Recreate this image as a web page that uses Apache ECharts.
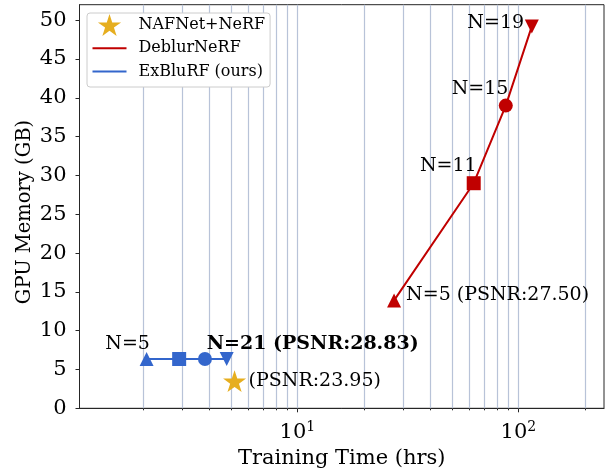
<!DOCTYPE html>
<html>
<head>
<meta charset="utf-8">
<script src="https://cdn.jsdelivr.net/npm/echarts@6/dist/echarts.min.js"></script>
<style>
html,body{margin:0;padding:0;background:#fff;}
#chart{width:607px;height:468px;}
</style>
</head>
<body>
<div id="chart"></div>
<script>
// ---- data ----
const nafTime = [5.2];
const nafMem = [3.5];
const nafLabels = ['(PSNR:23.95)'];

const deblurTime = [27.4, 62.8, 87.7, 115];
const deblurMem = [13.9, 29.0, 39.0, 49.2];
const deblurLabels = ['N=5 (PSNR:27.50)', 'N=11', 'N=15', 'N=19'];

const exbTime = [2.08, 2.92, 3.82, 4.79];
const exbMem = [6.35, 6.35, 6.35, 6.35];
const exbLabels = ['N=5', '', '', 'N=21 (PSNR:28.83)'];

const seriesNames = ['NAFNet+NeRF', 'DeblurNeRF', 'ExBluRF (ours)'];
const xMajorTicks = [10, 100];
const xMinorTicks = [2, 3, 4, 5, 6, 7, 8, 9, 20, 30, 40, 50, 60, 70, 80, 90, 200];
const yTicks = [0, 5, 10, 15, 20, 25, 30, 35, 40, 45, 50];

// ---- styles ----
const FONT = 'DejaVu Serif';
const RED = '#C00000';
const BLUE = '#3366CC';
const GOLD = '#E6AE1F';
const GRIDC = '#B8C3D8';
const AXC = '#262626';
const TICKFS = 21;
const ANNFS = 19;

// star path
function starPath() {
  let pts = [];
  for (let i = 0; i < 10; i++) {
    const r = i % 2 === 0 ? 100 : 38.2;
    const a = -Math.PI / 2 + i * Math.PI / 5;
    pts.push((r * Math.cos(a)).toFixed(2) + ',' + (r * Math.sin(a)).toFixed(2));
  }
  return 'path://M' + pts.join(' L') + ' Z';
}
const STAR = starPath();
const LINEICON = 'path://M0,0 L34,0 L34,2 L0,2 Z';

const markerShapes = ['triangle', 'rect', 'circle', 'triangle'];
const markerRot = [0, 0, 0, 180];

const deblurLabelLayout = [
  {align: 'left', offset: [12, -5.5]},
  {align: 'right', offset: [3, -17]},
  {align: 'right', offset: [2.6, -17]},
  {align: 'right', offset: [-7.7, -3.7]}
];
const exbLabelLayout = [
  {align: 'right', offset: [3.3, -15.4]},
  null, null,
  {align: 'left', offset: [-20, -15], fontWeight: 'bold'}
];
const nafLabelLayout = [{align: 'left', offset: [14, 0]}];

function buildData(xs, ys, labels, layouts, size) {
  return xs.map((x, i) => {
    const item = {
      value: [x, ys[i]],
      symbol: markerShapes[i],
      symbolRotate: markerRot[i],
      symbolSize: size
    };
    const lay = layouts[i];
    if (lay && labels[i]) {
      item.label = {
        show: true,
        position: 'inside',
        formatter: labels[i],
        align: lay.align,
        verticalAlign: 'middle',
        offset: lay.offset,
        fontFamily: FONT,
        fontSize: ANNFS,
        fontWeight: lay.fontWeight || 'normal',
        color: '#000'
      };
    } else {
      item.label = {show: false};
    }
    return item;
  });
}

const chart = echarts.init(document.getElementById('chart'), null, {renderer: 'canvas'});

const option = {
  animation: false,
  backgroundColor: '#fff',
  grid: {
    left: 79.5, right: 3, top: 4.7, bottom: 59.7,
    containLabel: false, outerBoundsMode: 'none',
    show: true, borderColor: AXC, borderWidth: 1, backgroundColor: 'transparent'
  },
  legend: {
    orient: 'vertical',
    left: 87, top: 13,
    padding: [1, 5, 4.4, 5.5],
    itemWidth: 34, itemHeight: 22, itemGap: 1.3,
    backgroundColor: '#fff',
    borderColor: '#cccccc', borderWidth: 1, borderRadius: 3,
    textStyle: {fontFamily: FONT, fontSize: 16, lineHeight: 22, color: '#000', padding: [0, 0, 0, 7]},
    data: [
      {name: seriesNames[0], icon: STAR},
      {name: seriesNames[1], icon: LINEICON},
      {name: seriesNames[2], icon: LINEICON}
    ],
    selectedMode: false,
    z: 10
  },
  xAxis: [
    {
      type: 'log', logBase: 10, min: 1.034, max: 244,
      name: 'Training Time (hrs)', nameLocation: 'middle', nameGap: 34,
      nameTextStyle: {fontFamily: FONT, fontSize: TICKFS, color: '#000'},
      axisLine: {show: true, lineStyle: {color: AXC, width: 1}},
      axisTick: {show: true, length: 4, lineStyle: {color: AXC}, customValues: xMajorTicks},
      axisLabel: {
        show: true, margin: 12, customValues: xMajorTicks,
        formatter: function (v) {
          const e = Math.round(Math.log10(v));
          return '{b|10}{s|' + e + '}';
        },
        rich: {
          b: {fontFamily: FONT, fontSize: TICKFS, color: '#000'},
          s: {fontFamily: FONT, fontSize: 14, color: '#000', padding: [0, 0, 10, 0]}
        }
      },
      splitLine: {show: false}
    },
    {
      type: 'log', logBase: 10, min: 1.034, max: 244, position: 'bottom',
      axisLine: {show: false},
      axisTick: {show: true, length: 2, lineStyle: {color: AXC}, customValues: xMinorTicks},
      axisLabel: {show: false},
      splitLine: {show: false}
    }
  ],
  yAxis: {
    type: 'value', min: 0, max: 52,
    name: 'GPU Memory (GB)', nameLocation: 'middle', nameGap: 45, nameMoveOverlap: false,
    nameTextStyle: {fontFamily: FONT, fontSize: 19.5, color: '#000', padding: [0, 11, 0, 0]},
    axisLine: {show: true, lineStyle: {color: AXC, width: 1}},
    axisTick: {show: true, length: 4, lineStyle: {color: AXC}, customValues: yTicks},
    axisLabel: {show: true, margin: 13, customValues: yTicks, fontFamily: FONT, fontSize: TICKFS, color: '#000'},
    splitLine: {show: false}
  },
  series: [
    {
      name: 'grid', type: 'line', data: [], silent: true, z: 1,
      markLine: {
        silent: true, symbol: 'none', label: {show: false}, z: 1,
        lineStyle: {color: GRIDC, width: 1.2, type: 'solid'},
        emphasis: {disabled: true},
        data: xMajorTicks.concat(xMinorTicks).map(v => ({xAxis: v}))
      }
    },
    {
      name: seriesNames[1], type: 'line',
      itemStyle: {color: RED}, lineStyle: {color: RED, width: 2},
      data: buildData(deblurTime, deblurMem, deblurLabels, deblurLabelLayout, 14),
      z: 3
    },
    {
      name: seriesNames[2], type: 'line',
      itemStyle: {color: BLUE}, lineStyle: {color: BLUE, width: 2},
      data: buildData(exbTime, exbMem, exbLabels, exbLabelLayout, 14),
      z: 3
    },
    {
      name: seriesNames[0], type: 'scatter',
      itemStyle: {color: GOLD, opacity: 1},
      symbol: STAR, symbolSize: 23, symbolKeepAspect: true,
      data: nafTime.map((x, i) => {
        const lay = nafLabelLayout[i];
        return {
          value: [x, nafMem[i]],
          label: {
            show: true, position: 'inside', formatter: nafLabels[i],
            align: lay.align, verticalAlign: 'middle', offset: lay.offset,
            fontFamily: FONT, fontSize: ANNFS, color: '#000'
          }
        };
      }),
      z: 4
    }
  ]
};
chart.setOption(option);
</script>
</body>
</html>
